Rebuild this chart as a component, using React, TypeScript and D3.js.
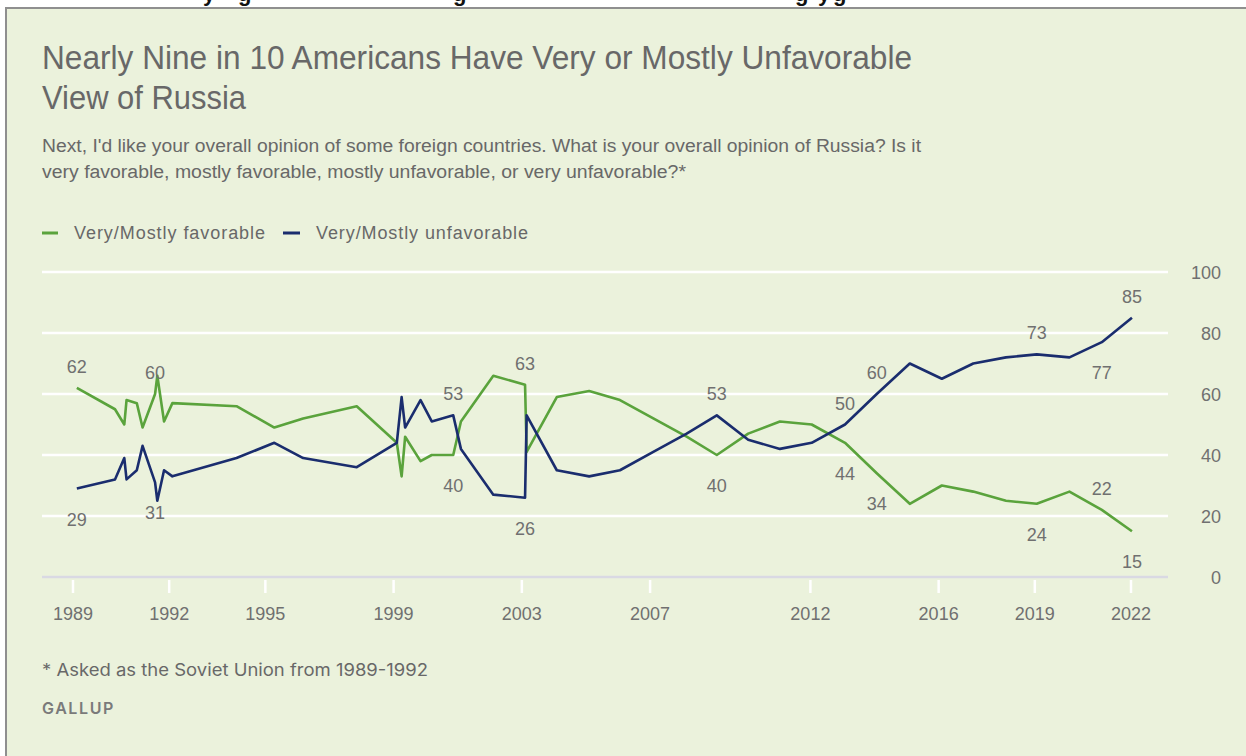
import React from "react";
import * as d3 from "d3";

// Poll dates (decimal years) with the share holding a very/mostly favorable
// and very/mostly unfavorable view of Russia (Soviet Union 1989-1992).
const pollDates = [
  1989.12, 1990.31, 1990.6, 1990.67, 1990.99, 1991.17, 1991.56, 1991.63, 1991.84, 1992.1,
  1994.1, 1995.28, 1996.18, 1997.85, 1999.1, 1999.25, 1999.36, 1999.84, 2000.19, 2000.86,
  2001.1, 2002.11, 2003.1, 2003.15, 2004.09, 2005.1, 2006.06, 2007.1, 2008.14, 2009.08,
  2010.06, 2011.05, 2012.04, 2013.08, 2014.07, 2015.1, 2016.1, 2017.08, 2018.1, 2019.06,
  2020.08, 2021.09, 2022.03,
];

const favorable = [
  62, 55, 50, 58, 57, 49, 60, 66, 51, 57,
  56, 49, 52, 56, 44, 33, 46, 38, 40, 40,
  51, 66, 63, 41, 59, 61, 58, 52, 46, 40,
  47, 51, 50, 44, 34, 24, 30, 28, 25, 24,
  28, 22, 15,
];

const unfavorable = [
  29, 32, 39, 32, 35, 43, 31, 25, 35, 33,
  39, 44, 39, 36, 44, 59, 49, 58, 51, 53,
  42, 27, 26, 53, 35, 33, 35, 41, 47, 53,
  45, 42, 44, 50, 60, 70, 65, 70, 72, 73,
  72, 77, 85,
];

const xTickYears = [1989, 1992, 1995, 1999, 2003, 2007, 2012, 2016, 2019, 2022];
const yTickValues = [0, 20, 40, 60, 80, 100];

// Which points carry a value label, and on which side of the line.
const favorableLabels: [number, "above" | "below"][] = [
  [0, "above"], [6, "above"], [19, "below"], [22, "above"], [29, "below"],
  [33, "below"], [34, "below"], [39, "below"], [41, "above"], [42, "below"],
];
const unfavorableLabels: [number, "above" | "below"][] = [
  [0, "below"], [6, "below"], [19, "above"], [22, "below"], [29, "above"],
  [33, "above"], [34, "above"], [39, "above"], [41, "below"], [42, "above"],
];

const seriesNames = ["Very/Mostly favorable", "Very/Mostly unfavorable"];

const GREEN = "#5aa33c";
const NAVY = "#1a2d6e";
const BG = "#ebf2dc";
const TEXT = "#686868";
const LABEL = "#707070";

const W = 1246;
const H = 756;

const x = d3.scaleLinear().domain([1989, 2022]).range([73, 1131]);
const y = d3.scaleLinear().domain([0, 100]).range([577, 272]);

const sans = "'Liberation Sans', Arial, sans-serif";
const narrow = "'Liberation Sans Narrow', 'Arial Narrow', 'Liberation Sans', sans-serif";

export default function App() {
  const lineGen = d3
    .line<number>()
    .x((_, i) => x(pollDates[i]))
    .y((d) => y(d))
    .curve(d3.curveLinear);

  const labelFor = (
    values: number[],
    [i, side]: [number, "above" | "below"],
    key: string
  ) => (
    <text
      key={key}
      x={x(pollDates[i])}
      y={y(values[i]) + (side === "above" ? -15 : 37)}
      textAnchor="middle"
      fontFamily={sans}
      fontSize={18}
      fill={LABEL}
    >
      {values[i]}
    </text>
  );

  // Descender glyphs of the heading that sits above the card
  const headingGlyphs: [string, number][] = [
    ["y", 203], ["g", 238], ["g", 453], ["g", 795], ["y", 818], ["g", 833],
  ];

  return (
    <div style={{ position: "absolute", left: 0, top: 0 }}>
      <svg width={W} height={H} style={{ display: "block" }}>
        <defs>
          <clipPath id="headingClip">
            <rect x={0} y={0} width={W} height={7} />
          </clipPath>
        </defs>
        <rect x={0} y={0} width={W} height={H} fill="#ffffff" />
        <g clipPath="url(#headingClip)">
          {headingGlyphs.map(([ch, gx], i) => (
            <text
              key={i}
              x={gx}
              y={0.5}
              fontFamily={sans}
              fontWeight="bold"
              fontSize={22}
              fill="#111"
            >
              {ch}
            </text>
          ))}
        </g>

        {/* card */}
        <rect x={6} y={8} width={W} height={H} fill={BG} />
        <line x1={5} x2={W} y1={8} y2={8} stroke="#8f8f8f" strokeWidth={2} />
        <line x1={6} x2={6} y1={8} y2={H} stroke="#8f8f8f" strokeWidth={2} />

        {/* title */}
        <text x={42} y={69} fontFamily={narrow} fontSize={34} fill={TEXT}
          textLength={870} lengthAdjust="spacingAndGlyphs">
          Nearly Nine in 10 Americans Have Very or Mostly Unfavorable
        </text>
        <text x={42} y={109} fontFamily={narrow} fontSize={34} fill={TEXT}
          textLength={204} lengthAdjust="spacingAndGlyphs">
          View of Russia
        </text>

        {/* question wording */}
        <text x={42} y={152} fontFamily={narrow} fontSize={18} fill={TEXT}
          textLength={879} lengthAdjust="spacingAndGlyphs">
          Next, I'd like your overall opinion of some foreign countries. What is your overall opinion of Russia? Is it
        </text>
        <text x={42} y={178} fontFamily={narrow} fontSize={18} fill={TEXT}
          textLength={644} lengthAdjust="spacingAndGlyphs">
          very favorable, mostly favorable, mostly unfavorable, or very unfavorable?*
        </text>

        {/* legend */}
        <line x1={42} x2={58} y1={233} y2={233} stroke={GREEN} strokeWidth={3} />
        <text x={74} y={238.5} fontFamily={sans} fontSize={18} fill={TEXT}
          textLength={191} lengthAdjust="spacing">
          {seriesNames[0]}
        </text>
        <line x1={283} x2={300} y1={233} y2={233} stroke={NAVY} strokeWidth={3} />
        <text x={316} y={238.5} fontFamily={sans} fontSize={18} fill={TEXT}
          textLength={212} lengthAdjust="spacing">
          {seriesNames[1]}
        </text>

        {/* gridlines and right axis */}
        {yTickValues.map((v) => (
          <g key={v}>
            {v > 0 && (
              <line x1={42} x2={1168} y1={y(v)} y2={y(v)} stroke="#ffffff" strokeWidth={2.5} />
            )}
            <text x={1221} y={y(v) + 6.5} textAnchor="end" fontFamily={sans}
              fontSize={18} fill={LABEL}>
              {v}
            </text>
          </g>
        ))}
        <line x1={42} x2={1168} y1={y(0)} y2={y(0)} stroke="#d9d9e3" strokeWidth={2.5} />

        {/* x axis */}
        {xTickYears.map((yr) => (
          <g key={yr}>
            <line x1={x(yr)} x2={x(yr)} y1={580} y2={593} stroke="#ffffff" strokeWidth={2.5} />
            <text x={x(yr)} y={619.5} textAnchor="middle" fontFamily={sans}
              fontSize={18} fill={LABEL}>
              {yr}
            </text>
          </g>
        ))}

        {/* series */}
        <path d={lineGen(favorable) ?? ""} fill="none" stroke={GREEN} strokeWidth={2.6}
          strokeLinejoin="round" />
        <path d={lineGen(unfavorable) ?? ""} fill="none" stroke={NAVY} strokeWidth={2.6}
          strokeLinejoin="round" />

        {favorableLabels.map((l, i) => labelFor(favorable, l, "f" + i))}
        {unfavorableLabels.map((l, i) => labelFor(unfavorable, l, "u" + i))}

        {/* footer */}
        <text x={42} y={676} fontFamily="Inter, 'Liberation Sans', sans-serif" fontSize={17}
          fill={TEXT} textLength={386} lengthAdjust="spacingAndGlyphs">
          * Asked as the Soviet Union from 1989-1992
        </text>
        <text x={42} y={714} fontFamily="Inter, 'Liberation Sans', sans-serif" fontSize={16}
          fontWeight={600} letterSpacing={1.6} fill="#7a7a7a">
          GALLUP
        </text>
      </svg>
    </div>
  );
}
